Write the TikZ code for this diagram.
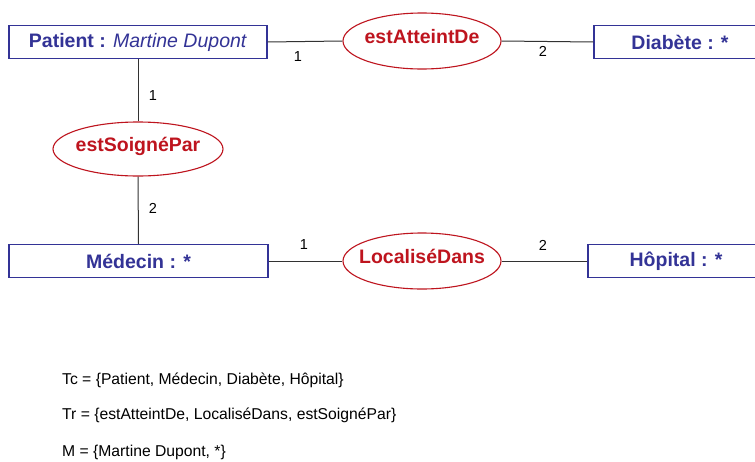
\documentclass[tikz,border=0pt]{standalone}
\usepackage{fontspec}
\setmainfont{Liberation Sans}
\usetikzlibrary{shapes.geometric}
\definecolor{cblue}{RGB}{51,51,150}
\definecolor{cred}{RGB}{190,20,30}
\definecolor{cline}{RGB}{50,50,50}
\newcommand{\zerowd}[1]{\makebox[0pt][c]{\raisebox{-2pt}[0pt][0pt]{#1}}}
\tikzset{
  entity/.style={draw=cblue, line width=1.1pt, fill=white, minimum height=33pt, inner sep=0pt,
    text=cblue, font=\fontsize{19.5}{22}\selectfont\bfseries},
  relation/.style={ellipse, draw=cred, line width=1.1pt, fill=white, inner sep=0pt,
    text=cred, font=\fontsize{19.5}{22}\selectfont\bfseries},
  card/.style={inner sep=0pt, font=\fontsize{14.5}{16}\selectfont},
  link/.style={draw=cline, line width=1pt},
  legend/.style={anchor=west, inner sep=0pt, font=\fontsize{15.7}{18}\selectfont}
}
\begin{document}
\begin{tikzpicture}[x=1pt, y=-1pt]
\clip (0,0) rectangle (755,461);
\fill[white] (0,0) rectangle (755,461);
% entities
\node[entity, minimum width=258pt] (patient) at (138,42) {Patient : \textit{\mdseries Martine Dupont}};
\node[entity, minimum width=172pt] (diabete) at (680,42) {Diabète : *};
\node[entity, minimum width=259pt] (medecin) at (138.5,261) {Médecin : *};
\node[entity, minimum width=176pt] (hopital) at (676,261) {Hôpital : *};
% relations
\node[relation, minimum width=158pt, minimum height=56pt] (atteint) at (422,41) {\zerowd{estAtteintDe}};
\node[relation, minimum width=170pt, minimum height=54pt] (soigne) at (138,149) {\zerowd{estSoignéPar}};
\node[relation, minimum width=158pt, minimum height=56pt] (localise) at (422,261) {\zerowd{LocaliséDans}};
% connectors
\draw[link] (patient.east) -- (atteint.west);
\draw[link] (atteint.east) -- (diabete.west);
\draw[link] (patient.south) -- (soigne.north);
\draw[link] (soigne.south) -- (medecin.north);
\draw[link] (medecin.east) -- (localise.west);
\draw[link] (localise.east) -- (hopital.west);
% cardinalities
\node[card] (c1) at (298,57) {1};
\node[card] (c2) at (543,51) {2};
\node[card] (c3) at (153,96) {1};
\node[card] (c4) at (153,208) {2};
\node[card] (c5) at (304,245) {1};
\node[card] (c6) at (543,245) {2};
% legend
\node[legend] (tc) at (62,380) {Tc = \{Patient, Médecin, Diabète, Hôpital\}};
\node[legend] (tr) at (62,415) {Tr = \{estAtteintDe, LocaliséDans, estSoignéPar\}};
\node[legend] (m) at (62,452) {M = \{Martine Dupont, *\}};
\end{tikzpicture}
\end{document}
